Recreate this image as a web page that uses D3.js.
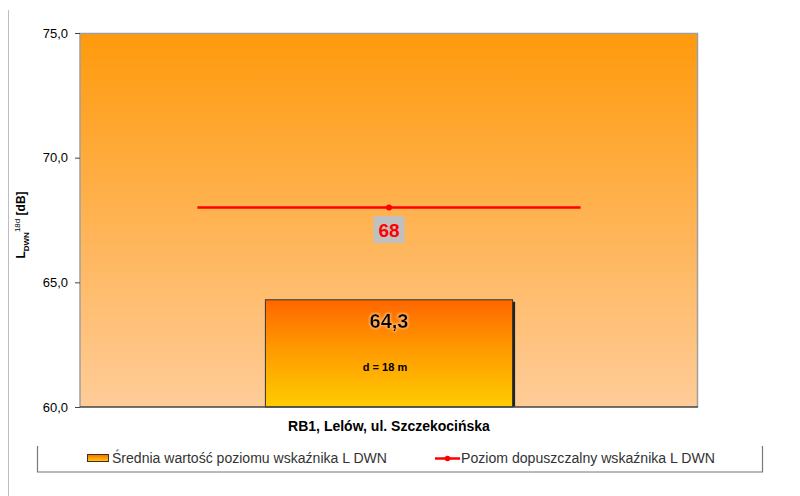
<!DOCTYPE html>
<html>
<head>
<meta charset="utf-8">
<script src="https://cdn.jsdelivr.net/npm/d3@7"></script>
<style>
  html, body { margin: 0; padding: 0; background: #fff; }
  svg { display: block; font-family: Arial, "Liberation Sans", sans-serif; }
</style>
</head>
<body>
<svg id="chart" width="800" height="496"></svg>
<script>
// Measurement point and its values
const categories = ["RB1, Lelów, ul. Szczekocińska"];
const meanValues = [64.3];          // mean L_DWN level
const limitValues = [68];           // permissible level
const distanceNotes = ["d = 18 m"];
const yTicks = [60, 65, 70, 75];
const legendLabels = [
  "Średnia wartość poziomu wskaźnika L DWN",
  "Poziom dopuszczalny wskaźnika L DWN"
];

const svg = d3.select("#chart");
const margin = { left: 80, top: 33, right: 102, bottom: 89 };
const W = 800, H = 496;
const pw = W - margin.left - margin.right;
const ph = H - margin.top - margin.bottom;

const defs = svg.append("defs");
const bgGrad = defs.append("linearGradient").attr("id", "bgGrad")
  .attr("x1", 0).attr("y1", 0).attr("x2", 0).attr("y2", 1);
bgGrad.append("stop").attr("offset", "0%").attr("stop-color", "#ff9a0c");
bgGrad.append("stop").attr("offset", "100%").attr("stop-color", "#ffcc99");

const barGrad = defs.append("linearGradient").attr("id", "barGrad")
  .attr("x1", 0).attr("y1", 0).attr("x2", 0).attr("y2", 1);
barGrad.append("stop").attr("offset", "0%").attr("stop-color", "#ff6600");
barGrad.append("stop").attr("offset", "45%").attr("stop-color", "#ff9900");
barGrad.append("stop").attr("offset", "100%").attr("stop-color", "#ffcc00");

const glow = defs.append("filter").attr("id", "glow")
  .attr("x", "-20%").attr("y", "-30%").attr("width", "140%").attr("height", "160%");
glow.append("feMorphology").attr("in", "SourceAlpha").attr("operator", "dilate").attr("radius", 1.2).attr("result", "d");
glow.append("feGaussianBlur").attr("in", "d").attr("stdDeviation", 1).attr("result", "b");
glow.append("feFlood").attr("flood-color", "#ffb060");
glow.append("feComposite").attr("in2", "b").attr("operator", "in").attr("result", "g");
const gm = glow.append("feMerge");
gm.append("feMergeNode").attr("in", "g");
gm.append("feMergeNode").attr("in", "SourceGraphic");

// Outer frame line on the left
svg.append("line").attr("x1", 8.5).attr("x2", 8.5).attr("y1", 10).attr("y2", 496)
  .attr("stroke", "#bdbdbd").attr("stroke-width", 1);

const g = svg.append("g").attr("transform", `translate(${margin.left},${margin.top})`);

const x = d3.scaleBand().domain(categories).range([0, pw]);
const y = d3.scaleLinear().domain([60, 75]).range([ph, 0]);

// Plot background
g.append("rect").attr("x", 0).attr("y", 0).attr("width", pw).attr("height", ph)
  .attr("fill", "url(#bgGrad)");
g.append("path").attr("d", `M0,${ph}V0.5H${pw - 0.5}V${ph}`)
  .attr("fill", "none").attr("stroke", "#a0a0a0").attr("stroke-width", 1.5);

// Bars
const barW = x.bandwidth() * 0.4;
const bars = g.selectAll(".bar").data(categories).enter().append("g");
bars.append("rect")
  .attr("x", (d) => x(d) + (x.bandwidth() - barW) / 2 + 2.5)
  .attr("y", (d, i) => y(meanValues[i]) + 2)
  .attr("width", barW).attr("height", (d, i) => ph - y(meanValues[i]) - 2)
  .attr("fill", "#222");
bars.append("rect")
  .attr("x", (d) => x(d) + (x.bandwidth() - barW) / 2)
  .attr("y", (d, i) => y(meanValues[i]))
  .attr("width", barW).attr("height", (d, i) => ph - y(meanValues[i]))
  .attr("fill", "url(#barGrad)").attr("stroke", "#333").attr("stroke-width", 1);

// Limit line
const lineW = x.bandwidth() * 0.62;
limitValues.forEach((v, i) => {
  const cx = x(categories[i]) + x.bandwidth() / 2;
  g.append("line").attr("x1", cx - lineW / 2).attr("x2", cx + lineW / 2)
    .attr("y1", y(v)).attr("y2", y(v)).attr("stroke", "#ff0000").attr("stroke-width", 2.5);
  g.append("circle").attr("cx", cx).attr("cy", y(v)).attr("r", 3).attr("fill", "#ff0000");
  g.append("rect").attr("x", cx - 15.5).attr("y", y(v) + 8.5).attr("width", 31).attr("height", 27)
    .attr("fill", "#c0c0c0");
  g.append("text").attr("x", cx).attr("y", y(v) + 29).attr("text-anchor", "middle")
    .attr("font-size", 19).attr("font-weight", "bold").attr("fill", "#ff0000")
    .text(String(v).replace(".", ","));
});

// Bar value and distance labels
meanValues.forEach((v, i) => {
  const cx = x(categories[i]) + x.bandwidth() / 2;
  g.append("text").attr("x", cx).attr("y", y(v) + 28).attr("text-anchor", "middle")
    .attr("font-size", 20).attr("font-weight", "bold").attr("fill", "#000")
    .attr("filter", "url(#glow)")
    .text(d3.format(".1f")(v).replace(".", ","));
  g.append("text").attr("x", cx - 4).attr("y", y(v) + 71).attr("text-anchor", "middle")
    .attr("font-size", 11).attr("font-weight", "bold").attr("fill", "#000")
    .text(distanceNotes[i]);
});

// Y axis
const yAxis = g.append("g").call(d3.axisLeft(y).tickValues(yTicks).tickSize(5).tickPadding(7)
  .tickFormat((d) => d3.format(".1f")(d).replace(".", ",")));
yAxis.select(".domain").remove();
yAxis.selectAll("line").attr("stroke", "#444");
yAxis.selectAll("text").attr("font-size", 13).attr("fill", "#000")
  .attr("font-family", "Arial, 'Liberation Sans', sans-serif");

// X axis baseline and category label
g.append("line").attr("x1", 0).attr("x2", pw).attr("y1", ph).attr("y2", ph)
  .attr("stroke", "#444").attr("stroke-width", 1.5);
g.selectAll(".cat").data(categories).enter().append("text")
  .attr("x", (d) => x(d) + x.bandwidth() / 2).attr("y", ph + 24)
  .attr("text-anchor", "middle").attr("font-size", 14).attr("font-weight", "bold")
  .text((d) => d);

// Y axis title
const yt = svg.append("text").attr("transform", "translate(25,225) rotate(-90)")
  .attr("text-anchor", "middle").attr("font-size", 12).attr("font-weight", "bold");
yt.append("tspan").text("L");
yt.append("tspan").attr("font-size", 8).attr("dy", 4).text("DWN");
yt.append("tspan").attr("font-size", 8).attr("dy", -9).attr("font-weight", "normal").text("18d");
yt.append("tspan").attr("dy", 5).text(" [dB]");

// Legend
const lg = svg.append("g");
lg.append("path").attr("d", "M37.5,446V472H762.5V446")
  .attr("fill", "none").attr("stroke", "#777").attr("stroke-width", 1.2);
lg.append("rect").attr("x", 87.5).attr("y", 454.5).attr("width", 21).attr("height", 7)
  .attr("fill", "url(#barGrad)").attr("stroke", "#333").attr("stroke-width", 1);
lg.append("text").attr("x", 112).attr("y", 463).attr("font-size", 14).attr("fill", "#333")
  .attr("textLength", 275).attr("lengthAdjust", "spacingAndGlyphs").text(legendLabels[0]);
lg.append("line").attr("x1", 435).attr("x2", 460).attr("y1", 458.5).attr("y2", 458.5)
  .attr("stroke", "#ff0000").attr("stroke-width", 2.5);
lg.append("circle").attr("cx", 447.5).attr("cy", 458.5).attr("r", 2.8).attr("fill", "#ff0000");
lg.append("text").attr("x", 461).attr("y", 463).attr("font-size", 14).attr("fill", "#333")
  .attr("textLength", 254).attr("lengthAdjust", "spacingAndGlyphs").text(legendLabels[1]);
</script>
</body>
</html>
